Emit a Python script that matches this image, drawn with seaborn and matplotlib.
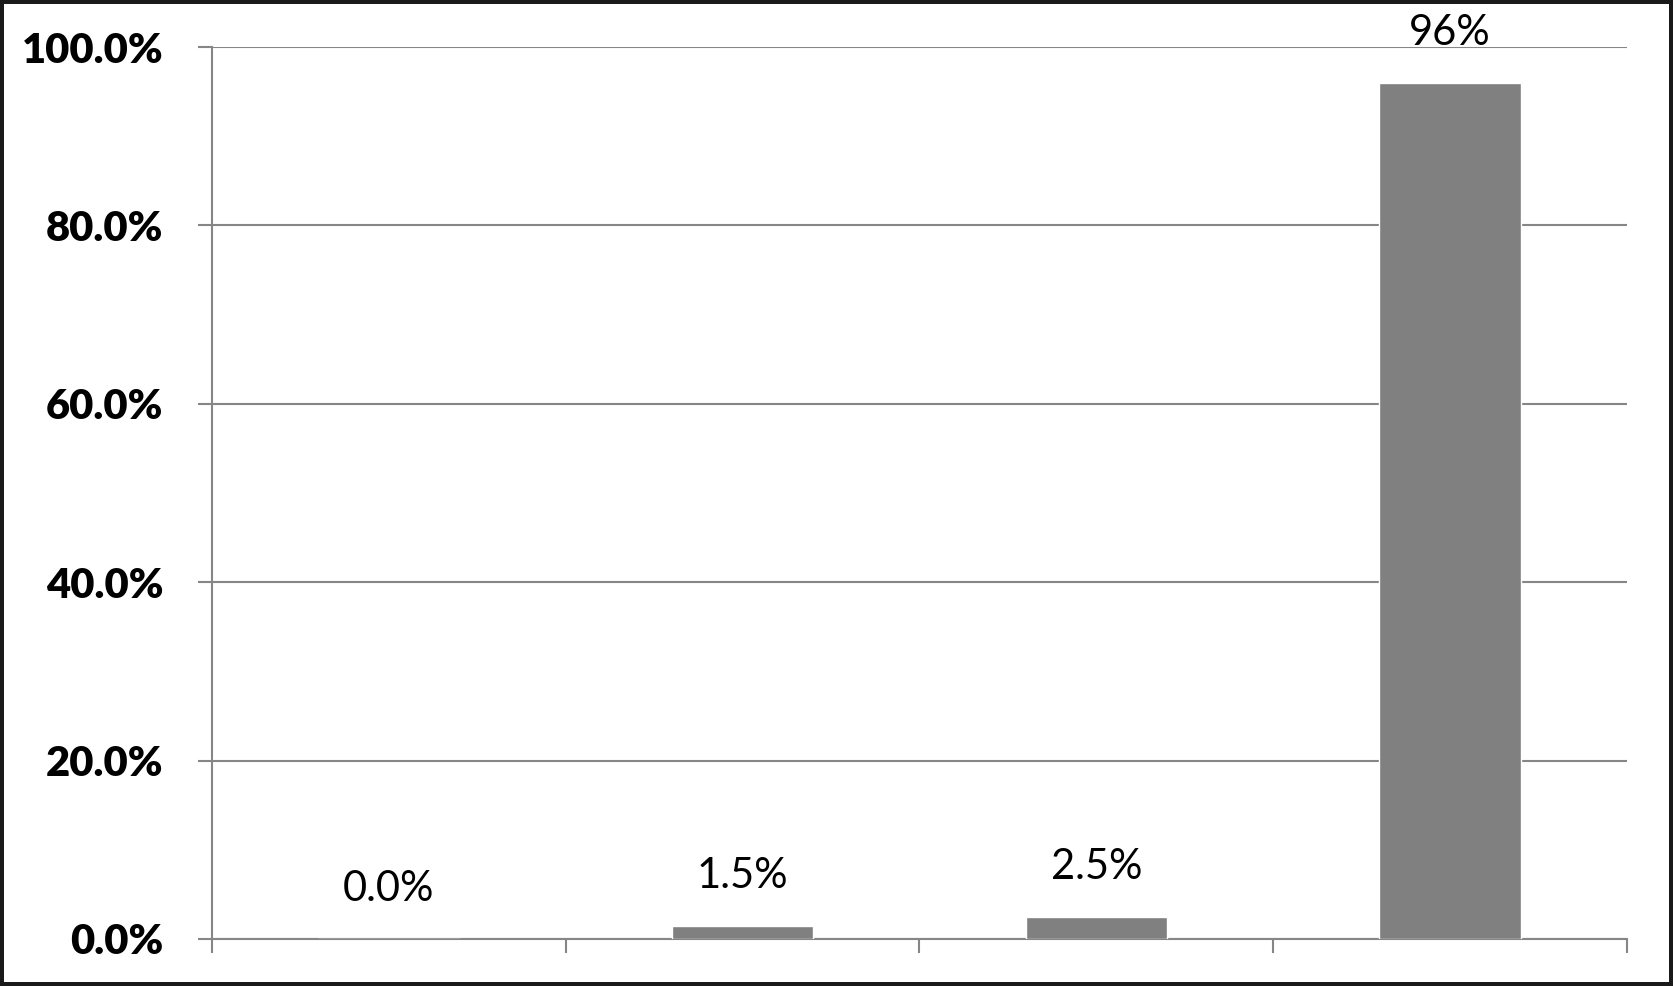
import matplotlib
matplotlib.use("Agg")
import matplotlib.pyplot as plt
import seaborn as sns
from matplotlib.ticker import FuncFormatter

# --- Data ---
categories = ["A", "B", "C", "D"]
values     = [0.0, 1.5, 2.5, 96.0]          # percent
labels     = ["0.0%", "1.5%", "2.5%", "96%"]

# --- Style ---
sns.set_style("white")
plt.rcParams['font.family'] = ['Lato', 'DejaVu Sans']

GRAY = '#868686'
fig = plt.figure(figsize=(16.73, 9.86), dpi=100)
fig.patch.set_edgecolor('#1a1a1a')
fig.patch.set_linewidth(4.5)
ax = fig.add_axes([0.1267, 0.0477, 0.9725 - 0.1267, 0.9523 - 0.0477])

sns.barplot(x=categories, y=values, ax=ax, color='#808080', width=0.4,
            saturation=1, zorder=3)

# data labels above bars
for patch, lbl in zip(ax.patches, labels):
    ax.annotate(lbl, (patch.get_x() + patch.get_width() / 2, patch.get_height()),
                xytext=(0, 36), textcoords='offset points', ha='center', va='center',
                fontsize=30, color='black')

# --- Axes ---
ax.set_ylim(0, 100)
ax.set_xlim(-0.5, len(categories) - 0.5)
ax.set_yticks(range(0, 101, 20))
ax.yaxis.set_major_formatter(FuncFormatter(lambda v, _: f'{v:.1f}%'))
ax.set_xticks([i - 0.5 for i in range(len(categories) + 1)])
ax.set_xticklabels([])
ax.set_xlabel('')
ax.set_ylabel('')

ax.grid(axis='y', color=GRAY, linewidth=1.5, zorder=0)
ax.grid(axis='x', visible=False)
for side in ['top', 'right']:
    ax.spines[side].set_visible(False)
for side in ['left', 'bottom']:
    ax.spines[side].set_color(GRAY)
    ax.spines[side].set_linewidth(1.5)

ax.tick_params(axis='y', direction='out', length=10, width=1.5, color=GRAY,
               pad=25, labelsize=30, left=True, labelcolor='black')
ax.tick_params(axis='x', direction='out', length=10, width=1.5, color=GRAY, bottom=True)
for t in ax.get_yticklabels():
    t.set_fontweight('heavy')

fig.savefig('out.png', dpi=100)
